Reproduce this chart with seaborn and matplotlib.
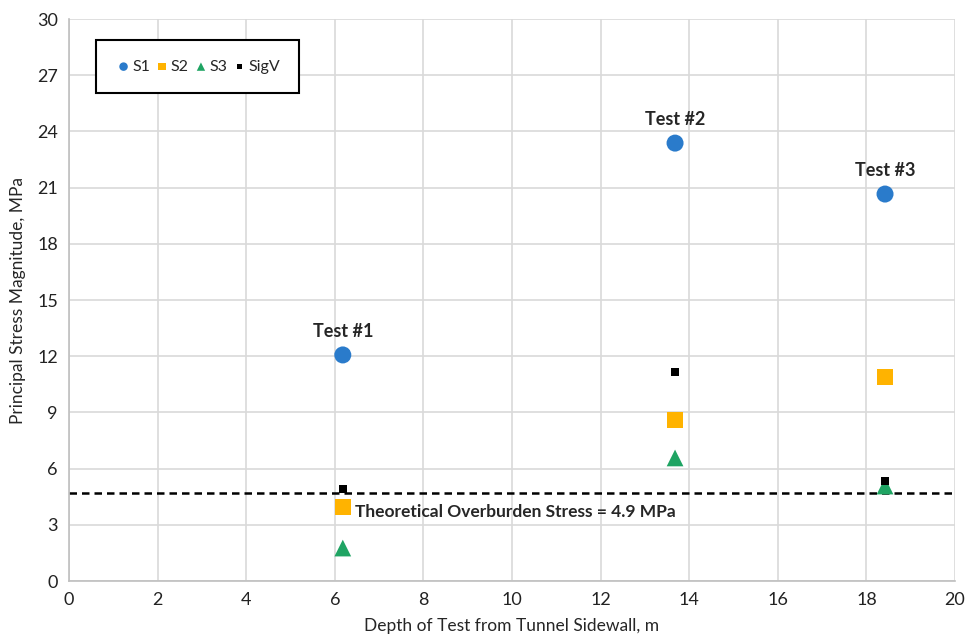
import matplotlib
matplotlib.use("Agg")
import matplotlib.pyplot as plt
import seaborn as sns
import pandas as pd

depth = [6.18, 13.68, 18.42]
s1 = [12.07, 23.38, 20.66]
s2 = [3.95, 8.6, 10.89]
s3 = [1.76, 6.57, 5.07]
sigv = [4.91, 11.16, 5.34]
test_labels = ["Test #1", "Test #2", "Test #3"]
overburden = 4.7
overburden_label = "Theoretical Overburden Stress = 4.9 MPa"
xticks = list(range(0, 21, 2))
yticks = list(range(0, 31, 3))

sns.set_theme(style="whitegrid")
plt.rcParams['font.family'] = ['Lato', 'DejaVu Sans']

fig = plt.figure(figsize=(9.68, 6.37), dpi=100)
ax = fig.add_axes([0.0713, 0.0879, 0.9153, 0.8821])

series = [
    ("S1", s1, "o", "#2a7bcb", 150),
    ("S2", s2, "s", "#ffb300", 125),
    ("S3", s3, "^", "#1fa463", 145),
    ("SigV", sigv, "s", "#000000", 38),
]
for name, vals, mk, col, sz in series:
    df = pd.DataFrame({"x": depth, "y": vals})
    sns.scatterplot(data=df, x="x", y="y", marker=mk, color=col, s=sz,
                    edgecolor="none", ax=ax, label=name, zorder=3)

ax.axhline(overburden, color="black", linestyle=(0, (3, 2)), linewidth=1.8, zorder=2)
ax.text(6.45, 3.7, overburden_label, fontsize=12.5, fontweight="bold",
        va="center", ha="left", zorder=4)

for x, y, t in zip(depth, s1, test_labels):
    ax.annotate(t, (x, y), xytext=(0, 11), textcoords="offset points",
                ha="center", va="bottom", fontsize=13, fontweight="bold")

ax.set_xlim(0, 20)
ax.set_ylim(0, 30)
ax.set_xticks(xticks)
ax.set_yticks(yticks)
ax.tick_params(labelsize=13, colors="#222222", pad=2)
ax.grid(True, color="#d9d9d9", linewidth=1.2)
for sp in ["top", "right"]:
    ax.spines[sp].set_visible(False)
for sp in ["left", "bottom"]:
    ax.spines[sp].set_color("#bfbfbf")
    ax.spines[sp].set_linewidth(1.2)
ax.set_xlabel("Depth of Test from Tunnel Sidewall, m", fontsize=12.5, labelpad=7)
ax.set_ylabel("Principal Stress Magnitude, MPa", fontsize=12.5, labelpad=8)

leg = ax.legend(loc="upper left", bbox_to_anchor=(0.03, 0.962), ncol=4,
                frameon=True, fancybox=False, fontsize=11.5, handletextpad=0.0,
                columnspacing=0.2, borderpad=1.2, markerscale=0.5,
                borderaxespad=0, handlelength=1.1)
leg.get_frame().set_edgecolor("black")
leg.get_frame().set_linewidth(1.5)
leg.get_frame().set_alpha(1)

fig.savefig("out.png", dpi=100)
